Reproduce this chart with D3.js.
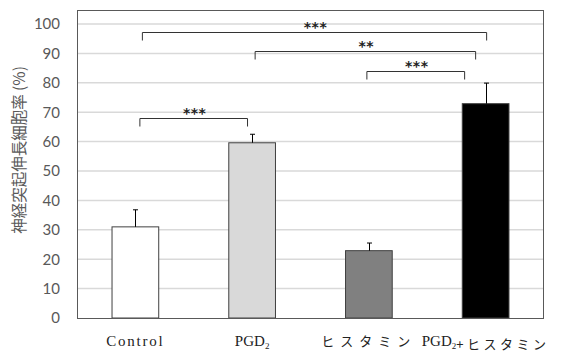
<!DOCTYPE html>
<html><head><meta charset="utf-8">
<script src="https://cdn.jsdelivr.net/npm/d3@7"></script>
<style>body{margin:0;background:#fff}svg{display:block}</style>
</head><body>
<script>
const categories = ["Control", "PGD2", "ヒスタミン", "PGD2+ヒスタミン"];
const values = [31, 59.6, 22.9, 72.9];
const errors = [5.8, 2.9, 2.6, 7.0];
const fills = ["#ffffff", "#d9d9d9", "#808080", "#000000"];
const yTicks = [0, 10, 20, 30, 40, 50, 60, 70, 80, 90, 100];
const brackets = [
  {from: 0, to: 3, level: 97.3, label: "***"},
  {from: 1, to: 3, level: 90.8, label: "**"},
  {from: 2, to: 3, level: 84.1, label: "***"},
  {from: 0, to: 1, level: 68.0, label: "***"}
];
const yLabel = "神経突起伸長細胞率 (%)";

const W = 564, H = 352;
const m = {left: 77, right: 20, top: 10, bottom: 34};
const svg = d3.select("body").append("svg").attr("width", W).attr("height", H);
const x = d3.scaleBand().domain(d3.range(categories.length)).range([m.left, W - m.right]).padding(0);
const y = d3.scaleLinear().domain([0, 100]).range([318, 24]);
const bw = x.bandwidth() * 0.4;
const cx = i => x(i) + x.bandwidth() / 2;

// gridlines
svg.append("g").selectAll("line").data(yTicks.filter(d => d > 0)).join("line")
  .attr("x1", m.left).attr("x2", W - m.right)
  .attr("y1", d => y(d)).attr("y2", d => y(d))
  .attr("stroke", "#d9d9d9").attr("stroke-width", 1.5);

// y axis labels
const yAxis = d3.axisLeft(y).tickValues(yTicks).tickSize(0).tickPadding(17);
const ya = svg.append("g").attr("transform", `translate(${m.left},0)`).call(yAxis);
ya.select(".domain").remove();
ya.selectAll("text").attr("font-family", "Lato, 'Open Sans', sans-serif").attr("font-size", 15).attr("fill", "#595959");

// bars
svg.append("g").selectAll("rect").data(values).join("rect")
  .attr("x", (d, i) => cx(i) - bw / 2).attr("width", bw)
  .attr("y", d => y(d)).attr("height", d => y(0) - y(d))
  .attr("fill", (d, i) => fills[i]).attr("stroke", "#404040").attr("stroke-width", 1);

// error bars
const eb = svg.append("g").attr("stroke", "#000").attr("stroke-width", 1);
values.forEach((v, i) => {
  const c = Math.round(cx(i)) + 0.5;
  eb.append("line").attr("x1", c).attr("x2", c).attr("y1", y(v)).attr("y2", y(v + errors[i]));
  eb.append("line").attr("x1", c - 2.5).attr("x2", c + 2.5).attr("y1", y(v + errors[i])).attr("y2", y(v + errors[i]));
});

// frame
svg.append("rect").attr("x", m.left + 0.5).attr("y", m.top + 0.5)
  .attr("width", W - m.right - m.left - 1).attr("height", y(0) - m.top)
  .attr("fill", "none").attr("stroke", "#595959").attr("stroke-width", 1);

// brackets
const bOff = [[7, 1], [3, -10], [-2, -21], [4.5, -4.6]];
const bg = svg.append("g");
brackets.forEach((b, k) => {
  const x1 = cx(b.from) + bOff[k][0], x2 = cx(b.to) + bOff[k][1];
  const yy = Math.round(y(b.level)) + 0.5, drop = 8;
  bg.append("path").attr("d", `M${x1},${yy + drop}V${yy}H${x2}V${yy + drop}`)
    .attr("fill", "none").attr("stroke", "#333").attr("stroke-width", 1);
  bg.append("text").attr("x", (x1 + x2) / 2 + 1).attr("y", yy - 1)
    .attr("text-anchor", "middle").attr("font-family", "'DejaVu Sans', sans-serif")
    .attr("font-weight", "bold").attr("letter-spacing", 0.5).attr("font-size", 14).attr("fill", "#222").text(b.label);
});

// y label
svg.append("text").attr("transform", `translate(25,150) rotate(-90)`)
  .attr("text-anchor", "middle").attr("font-family", "'Noto Sans CJK JP', sans-serif")
  .attr("font-size", 15.5).attr("fill", "#595959").text(yLabel);

// x labels
const isKana = s => /[ァ-ン]/.test(s);
const xl = svg.append("g").attr("font-size", 15).attr("fill", "#222");
categories.forEach((c, i) => {
  const t = xl.append("text").attr("x", cx(i)).attr("y", 346).attr("text-anchor", "middle");
  const parts = c.split("PGD2");
  let ls = 0;
  parts.forEach((p, j) => {
    if (j > 0) {
      t.append("tspan").attr("font-family", "'Liberation Serif', serif").text("PGD");
      t.append("tspan").attr("font-family", "'Liberation Serif', serif").attr("font-size", 9).attr("dy", 3).text("2");
      t.append("tspan").attr("dy", -3).text("");
    }
    if (p) {
      const sp = t.append("tspan").text(p);
      if (isKana(p)) {
        ls = parts.length > 1 ? 3.5 : 6;
        sp.attr("font-family", "'Noto Sans CJK JP', sans-serif")
          .attr("font-size", 13).attr("letter-spacing", ls);
      } else if (parts.length > 1) {
        sp.attr("font-family", "'Liberation Serif', serif");
      } else {
        sp.attr("font-family", "'Liberation Serif', serif").attr("letter-spacing", 1.8);
      }
    }
  });
  const bb = t.node().getBBox();
  if (bb.x + bb.width - ls > W - 1) t.attr("text-anchor", "end").attr("x", W - 1 + ls);
});
</script>
</body></html>
